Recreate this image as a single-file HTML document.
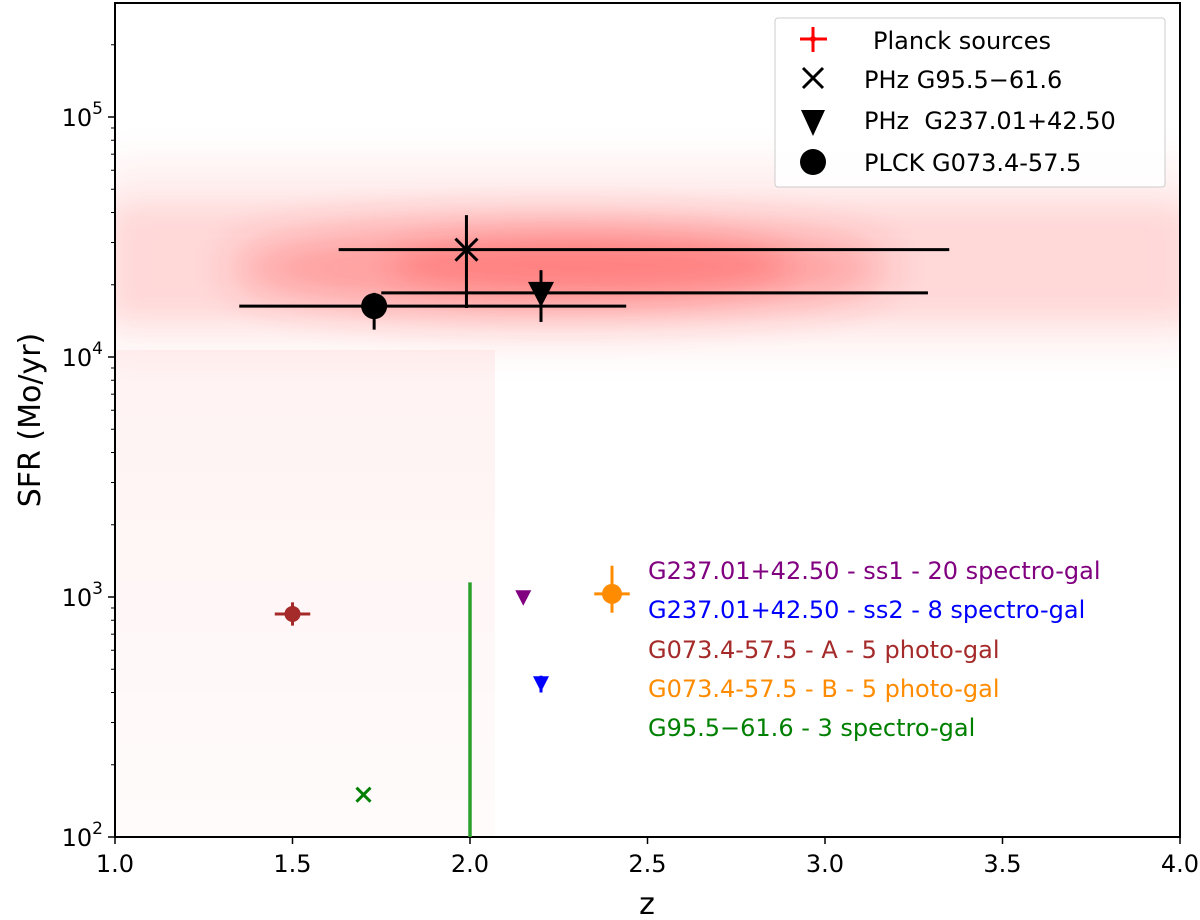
<!DOCTYPE html>
<html><head><meta charset="utf-8"><style>
body{margin:0;background:#fff;}
svg{display:block;font-family:"DejaVu Sans","Liberation Sans",sans-serif;}
</style></head><body>
<svg id="chart" width="1200" height="920" viewBox="0 0 1200 920">
<defs>
<filter id="blur" x="-20%" y="-50%" width="140%" height="200%"><feGaussianBlur stdDeviation="14"/></filter>
<filter id="blur2" x="-20%" y="-50%" width="140%" height="200%"><feGaussianBlur stdDeviation="22"/></filter>
<linearGradient id="fadeV" x1="0" y1="0" x2="0" y2="1"><stop offset="0" stop-color="#ff0000" stop-opacity="0.05"/><stop offset="1" stop-color="#ff0000" stop-opacity="0.015"/></linearGradient>
<clipPath id="plotclip"><rect x="115" y="3" width="1065" height="834"/></clipPath>
</defs>
<g id="haze" clip-path="url(#plotclip)">
<rect x="115" y="350" width="380" height="487" fill="url(#fadeV)"/>
<rect x="100" y="165" width="1100" height="180" fill="#ff3030" opacity="0.09" filter="url(#blur2)"/>
<rect x="100" y="205" width="1100" height="115" fill="#ff2020" opacity="0.09" filter="url(#blur)"/>
<ellipse cx="560" cy="268" rx="330" ry="45" fill="#ff2020" opacity="0.32" filter="url(#blur2)"/>
<ellipse cx="590" cy="265" rx="200" ry="28" fill="#ff1a1a" opacity="0.22" filter="url(#blur)"/>
</g>
<g id="axes"></g>
<g id="marks"></g>
<g id="legend">
<rect x="775" y="18" width="390" height="169" rx="3" fill="#fff" fill-opacity="0.85" stroke="#ccc" stroke-width="1"/>
<g>
<line x1="800" y1="39" x2="827" y2="39" stroke="#f00" stroke-width="3"/><line x1="813" y1="27" x2="813" y2="52" stroke="#f00" stroke-width="3"/><circle cx="813" cy="39" r="3" fill="#f00"/>
<text x="873" y="49" font-size="24">Planck sources</text></g>
<g>
<path d="M803 68 L823 88 M823 68 L803 88" stroke="#000" stroke-width="3"/>
<text x="864" y="88" font-size="24">PHz G95.5−61.6</text></g>
<g>
<path d="M801 110 L825 110 L813 136 Z" fill="#000"/>
<text x="864" y="129" font-size="24" xml:space="preserve">PHz  G237.01+42.50</text></g>
<g>
<circle cx="813" cy="162" r="13" fill="#000"/>
<text x="864" y="171" font-size="24">PLCK G073.4-57.5</text></g>
</g>
<g id="sublegend" font-size="24">
<text x="648" y="579" fill="#800080">G237.01+42.50 - ss1 - 20 spectro-gal</text>
<text x="648" y="618" fill="#0000ff">G237.01+42.50 - ss2 - 8 spectro-gal</text>
<text x="648" y="658" fill="#a52a2a">G073.4-57.5 - A - 5 photo-gal</text>
<text x="648" y="697" fill="#ff8c00">G073.4-57.5 - B - 5 photo-gal</text>
<text x="648" y="736" fill="#008000">G95.5−61.6 - 3 spectro-gal</text>
</g>
<text x="647" y="914" font-size="30" text-anchor="middle">z</text>
<text transform="translate(40,420) rotate(-90)" font-size="30" text-anchor="middle">SFR (Mo/yr)</text>
</svg>
<script>
const xTicks=[1.0,1.5,2.0,2.5,3.0,3.5,4.0];
const xTickLabels=["1.0","1.5","2.0","2.5","3.0","3.5","4.0"];
const yDecades=[2,3,4,5];
const mainNames=["phz-g95","phz-g237","plck-g073"];
const mainZ=[1.99,2.20,1.73];
const mainSFR=[28000,18500,16300];
const mainZlo=[1.63,1.75,1.35];
const mainZhi=[3.35,3.29,2.44];
const mainSlo=[16000,14000,13000];
const mainShi=[39000,23000,18500];
const mainMarker=["x","v","o"];
const subNames=["g073-a","g95","ss1","ss2","g073-b"];
const subZ=[1.50,1.70,2.15,2.20,2.40];
const subSFR=[850,150,1000,438,1030];
const subZerr=[0.05,0,0,0,0.05];
const subSlo=[760,150,960,400,860];
const subShi=[950,150,1030,470,1350];
const subColor=["#a52a2a","#008000","#800080","#0000ff","#ff8c00"];
const subMarker=["o","x","v","v","o"];
const lineZ=[2.0];
const lineSFR=[1150];

const X0=115,X1=1180,Y0=837,YT=3;
const xs=z=>X0+(z-1)*(X1-X0)/3;
const ys=v=>Y0-240*(Math.log10(v)-2);
const NS="http://www.w3.org/2000/svg";
function mk(t,a,p){const e=document.createElementNS(NS,t);for(const k in a)e.setAttribute(k,a[k]);p.appendChild(e);return e;}
const ax=document.getElementById('axes'),mg=document.getElementById('marks');
const frame=mk('rect',{x:X0,y:YT,width:X1-X0,height:Y0-YT,fill:'none',stroke:'#000','stroke-width':2},ax);


xTicks.forEach((t,i)=>{
  const x=xs(t);
  mk('line',{x1:x,y1:Y0,x2:x,y2:Y0+7,stroke:'#000','stroke-width':1.5},ax);
  const tx=mk('text',{x:x,y:Y0+35,'font-size':24,'text-anchor':'middle'},ax);
  tx.textContent=xTickLabels[i];
  
  
});
yDecades.forEach(d=>{
  const y=ys(Math.pow(10,d));
  mk('line',{x1:X0-7,y1:y,x2:X0,y2:y,stroke:'#000','stroke-width':1.5},ax);
  const tx=mk('text',{x:X0-12,y:y+9,'font-size':24,'text-anchor':'end'},ax);
  tx.innerHTML='10<tspan dy="-12" font-size="17">'+d+'</tspan>';
  
  
  for(let m=2;m<10;m++){const v=m*Math.pow(10,d);const yy=ys(v);if(yy<YT)continue;
    mk('line',{x1:X0-4,y1:yy,x2:X0,y2:yy,stroke:'#000','stroke-width':1},ax);}
});
function marker(type,x,y,c,s,g){
  if(type==='x'){mk('path',{d:`M${x-s} ${y-s}L${x+s} ${y+s}M${x+s} ${y-s}L${x-s} ${y+s}`,stroke:c,'stroke-width':3},g);}
  else if(type==='v'){mk('path',{d:`M${x-s} ${y-s*0.85}L${x+s} ${y-s*0.85}L${x} ${y+s*1.1}Z`,fill:c},g);}
  else mk('circle',{cx:x,cy:y,r:s,fill:c},g);
}
mainZ.forEach((z,i)=>{
  const g=mk('g',{},mg);
  
  
  const x=xs(z),y=ys(mainSFR[i]);
  mk('line',{x1:xs(mainZlo[i]),y1:y,x2:xs(mainZhi[i]),y2:y,stroke:'#000','stroke-width':3},g);
  mk('line',{x1:x,y1:ys(mainSlo[i]),x2:x,y2:ys(mainShi[i]),stroke:'#000','stroke-width':3},g);
  marker(mainMarker[i],x,y,'#000',mainMarker[i]==='x'?11:13,g);
});
lineZ.forEach((z,i)=>{
  const l=mk('line',{x1:xs(z),y1:ys(lineSFR[i]),x2:xs(z),y2:Y0,stroke:'#2ca02c','stroke-width':3.5},mg);
  
  
});
subZ.forEach((z,i)=>{
  const g=mk('g',{},mg);
  
  
  const x=xs(z),y=ys(subSFR[i]),c=subColor[i];
  if(subZerr[i]>0)mk('line',{x1:xs(z-subZerr[i]),y1:y,x2:xs(z+subZerr[i]),y2:y,stroke:c,'stroke-width':3},g);
  if(subShi[i]!==subSlo[i])mk('line',{x1:x,y1:ys(subSlo[i]),x2:x,y2:ys(subShi[i]),stroke:c,'stroke-width':3},g);
  marker(subMarker[i],x,y,c,subMarker[i]==='o'?(i===4?10:8):(subMarker[i]==='x'?7:8),g);
});
</script>
</body></html>
